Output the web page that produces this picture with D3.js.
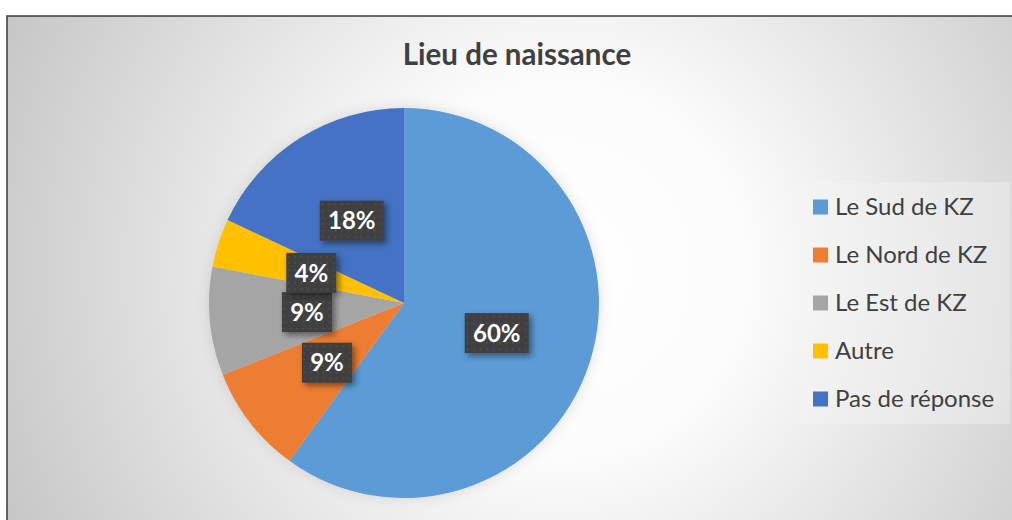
<!DOCTYPE html>
<html>
<head>
<meta charset="utf-8">
<script src="https://cdn.jsdelivr.net/npm/d3@7"></script>
<style>
  html, body { margin: 0; padding: 0; background: #fff; }
  svg { display: block; }
</style>
</head>
<body>
<svg id="viz"></svg>
<script>
// Lieu de naissance - pie chart, Excel style
const categories = ["Le Sud de KZ", "Le Nord de KZ", "Le Est de KZ", "Autre", "Pas de réponse"];
const values = [60, 9, 9, 4, 18];
const colors = ["#5B9BD5", "#ED7D31", "#A5A5A5", "#FFC000", "#4472C4"];

const W = 1012, H = 520;
const svg = d3.select("#viz").attr("width", W).attr("height", H);
const defs = svg.append("defs");

// background radial gradient
const bg = defs.append("radialGradient")
    .attr("id", "bgGrad")
    .attr("gradientUnits", "userSpaceOnUse")
    .attr("cx", 560).attr("cy", 270).attr("r", 640);
bg.append("stop").attr("offset", "0").attr("stop-color", "#ffffff");
bg.append("stop").attr("offset", "0.3").attr("stop-color", "#fbfbfb");
bg.append("stop").attr("offset", "1").attr("stop-color", "#c2c2c2");

// soft shadow for the pie
const pieShadow = defs.append("filter").attr("id", "pieShadow")
    .attr("x", "-20%").attr("y", "-20%").attr("width", "140%").attr("height", "140%");
pieShadow.append("feDropShadow")
    .attr("dx", 0).attr("dy", 0).attr("stdDeviation", 7)
    .attr("flood-color", "#000").attr("flood-opacity", 0.12);

// shadow for the label boxes
const boxShadow = defs.append("filter").attr("id", "boxShadow")
    .attr("x", "-30%").attr("y", "-30%").attr("width", "170%").attr("height", "170%");
boxShadow.append("feDropShadow")
    .attr("dx", 3).attr("dy", 3).attr("stdDeviation", 3)
    .attr("flood-color", "#000").attr("flood-opacity", 0.45);

// dotted pattern for label boxes
const pat = defs.append("pattern")
    .attr("id", "dots")
    .attr("patternUnits", "userSpaceOnUse")
    .attr("width", 6.5).attr("height", 6.5);
pat.append("rect").attr("width", 6.5).attr("height", 6.5).attr("fill", "#3f3f3f");
pat.append("rect").attr("x", 2.5).attr("y", 2.5).attr("width", 1.5).attr("height", 1.5).attr("fill", "#575757");

// chart area
svg.append("rect")
    .attr("x", 7).attr("y", 16)
    .attr("width", W + 20).attr("height", H + 20)
    .attr("fill", "url(#bgGrad)")
    .attr("stroke", "#3a3a3a")
    .attr("stroke-width", 1.5);

// title
svg.append("text")
    .attr("x", 517)
    .attr("y", 65)
    .attr("text-anchor", "middle")
    .attr("font-family", "Lato, 'Open Sans', sans-serif")
    .attr("font-weight", "bold")
    .attr("font-size", "29.5px")
    .attr("fill", "#404040")
    .text("Lieu de naissance");

// pie
const cx = 404, cy = 303, R = 195;
const pie = d3.pie().sort(null).value(d => d);
const arcs = pie(values);
const arc = d3.arc().innerRadius(0).outerRadius(R);

const g = svg.append("g").attr("transform", `translate(${cx},${cy})`);
g.append("g")
    .attr("filter", "url(#pieShadow)")
    .selectAll("path")
    .data(arcs)
    .join("path")
    .attr("d", arc)
    .attr("fill", (d, i) => colors[i]);

// data labels at the arc centroid
const boxW = 64, boxH = 40;
const labels = g.selectAll("g.lbl")
    .data(arcs)
    .join("g")
    .attr("class", "lbl")
    .attr("transform", d => {
        const c = arc.centroid(d);
        return `translate(${c[0]},${c[1]})`;
    });

labels.append("rect")
    .attr("x", (d, i) => -(values[i] >= 10 ? boxW : 50) / 2)
    .attr("y", -boxH / 2)
    .attr("width", (d, i) => values[i] >= 10 ? boxW : 50)
    .attr("height", boxH)
    .attr("fill", "url(#dots)")
    .attr("filter", "url(#boxShadow)");

labels.append("text")
    .attr("text-anchor", "middle")
    .attr("dy", "0.36em")
    .attr("font-family", "Lato, 'Open Sans', sans-serif")
    .attr("font-weight", "bold")
    .attr("font-size", "24px")
    .attr("fill", "#ffffff")
    .text((d, i) => values[i] + "%");

// legend
const legendX = 813, legendY0 = 207, legendStep = 48;
svg.append("rect")
    .attr("x", 800).attr("y", 182)
    .attr("width", 210).attr("height", 242)
    .attr("fill", "#f4f4f4")
    .attr("fill-opacity", 0.4);

const leg = svg.selectAll("g.legend")
    .data(categories)
    .join("g")
    .attr("class", "legend")
    .attr("transform", (d, i) => `translate(${legendX},${legendY0 + i * legendStep})`);

leg.append("rect")
    .attr("x", 0).attr("y", -7.5)
    .attr("width", 15).attr("height", 15)
    .attr("fill", (d, i) => colors[i]);

leg.append("text")
    .attr("x", 22)
    .attr("dy", "0.35em")
    .attr("font-family", "Lato, 'Open Sans', sans-serif")
    .attr("font-size", "24px")
    .attr("fill", "#404040")
    .text(d => d);
</script>
</body>
</html>
